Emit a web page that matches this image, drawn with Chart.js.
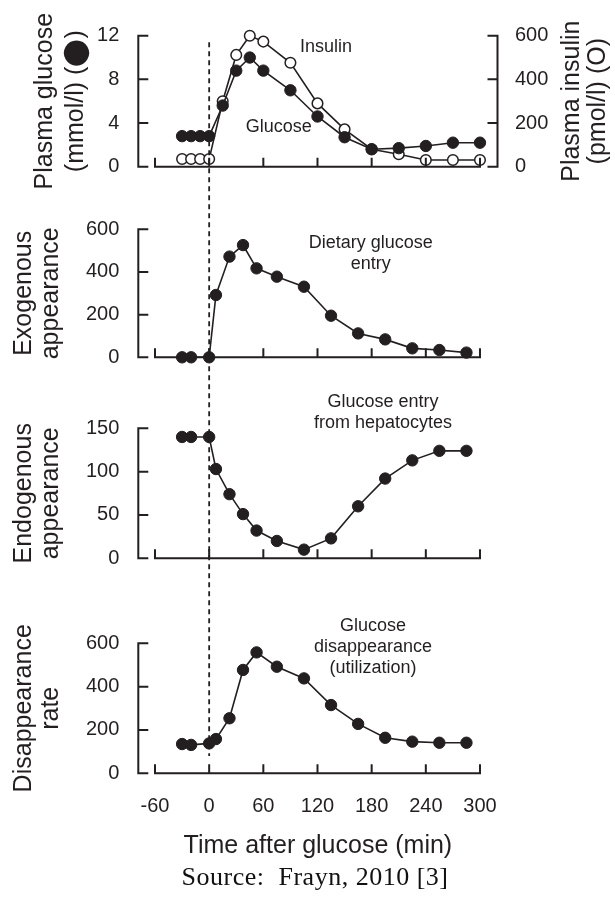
<!DOCTYPE html>
<html><head><meta charset="utf-8">
<script src="https://cdn.jsdelivr.net/npm/chart.js@4.4.1/dist/chart.umd.min.js"></script>
<style>
html,body{margin:0;padding:0;background:#fff;}
#wrap{position:relative;width:615px;height:901px;overflow:hidden;background:#fff;}
canvas{position:absolute;left:0;top:0;}
#src{position:absolute;left:0;width:630px;top:862px;text-align:center;font-family:"Liberation Serif","Times New Roman",serif;font-size:26px;line-height:30px;color:#111;letter-spacing:0.5px;}
</style></head><body>
<div id="wrap">
<canvas id="c1" width="615" height="901"></canvas>
<canvas id="c2" width="615" height="901"></canvas>
<canvas id="c3" width="615" height="901"></canvas>
<canvas id="c4" width="615" height="901"></canvas>
<div id="src">Source:&nbsp; Frayn, 2010 [3]</div>
</div>
<script>
// ---------- data ----------
const glucoseTime = [-30, -20, -10, 0, 15, 30, 45, 60, 90, 120, 150, 180, 210, 240, 270, 300];
const glucose     = [2.8, 2.8, 2.8, 2.8, 5.6, 8.8, 10.0, 8.8, 7.0, 4.6, 2.7, 1.6, 1.7, 1.9, 2.2, 2.2];
const insulin     = [35, 35, 35, 35, 300, 512, 600, 573, 476, 290, 171, 80, 57, 31, 31, 31];
const rateTime      = [-30, -20, 0, 7.5, 22.5, 37.5, 52.5, 75, 105, 135, 165, 195, 225, 255, 285];
const exogenous     = [0, 0, 0, 292, 472, 526, 417, 378, 331, 195, 112, 84, 42, 34, 22];
const endogenous    = [140, 140, 140, 103, 74, 51, 32, 20, 10, 23, 60, 92, 113, 124, 124];
const disappearance = [135, 131, 138, 158, 254, 477, 558, 492, 438, 315, 228, 164, 146, 141, 141];
const xTicks        = [-60, 0, 60, 120, 180, 240, 300];
const glucoseTicks  = [0, 4, 8, 12];
const insulinTicks  = [0, 200, 400, 600];
const exoTicks      = [0, 200, 400, 600];
const endoTicks     = [0, 50, 100, 150];
const disTicks      = [0, 200, 400, 600];

// ---------- style / layout ----------
const FONT = '"Liberation Sans", Arial, Helvetica, sans-serif';
const INK = '#231f20';
const W = 615, H = 901;
const LEFT_W = 138.3, RIGHT_W = 117.5;
const X_MIN = -78.5, X_MAX = 319.4;

const pts = (xs, ys) => xs.map((t, i) => ({x: t, y: ys[i]}));
const setTicks = arr => s => { s.ticks = arr.map(v => ({value: v})); };

const framePlugin = {
  id: 'frame',
  afterDatasetsDraw(chart, args, o) {
    const ctx = chart.ctx, xs = chart.scales.x, ys = chart.scales.y;
    const ca = chart.chartArea;
    ctx.save();
    ctx.strokeStyle = INK; ctx.lineWidth = 2; ctx.lineCap = 'butt'; ctx.lineJoin = 'miter';
    const yT = o.yTicks;
    const top = ys.getPixelForValue(yT[yT.length - 1]), bot = ys.getPixelForValue(yT[0]);
    const L = ca.left;
    ctx.beginPath();
    ctx.moveTo(L + 10, top); ctx.lineTo(L, top); ctx.lineTo(L, bot); ctx.lineTo(L + 10, bot);
    yT.slice(1, -1).forEach(v => { const p = ys.getPixelForValue(v); ctx.moveTo(L, p); ctx.lineTo(L + 10, p); });
    ctx.stroke();
    if (chart.scales.y1 && o.y1Ticks) {
      const y1 = chart.scales.y1, R = ca.right, t1 = o.y1Ticks;
      const tp = y1.getPixelForValue(t1[t1.length - 1]), bt = y1.getPixelForValue(t1[0]);
      ctx.beginPath();
      ctx.moveTo(R - 10, tp); ctx.lineTo(R, tp); ctx.lineTo(R, bt); ctx.lineTo(R - 10, bt);
      t1.slice(1, -1).forEach(v => { const p = y1.getPixelForValue(v); ctx.moveTo(R, p); ctx.lineTo(R - 10, p); });
      ctx.stroke();
    }
    const xb = ys.getPixelForValue(0);
    const xT = o.xTicks;
    const x0 = xs.getPixelForValue(xT[0]), x1 = xs.getPixelForValue(xT[xT.length - 1]);
    ctx.beginPath();
    ctx.moveTo(x0, xb - 9); ctx.lineTo(x0, xb); ctx.lineTo(x1, xb); ctx.lineTo(x1, xb - 9);
    xT.slice(1, -1).forEach(v => { const p = xs.getPixelForValue(v); ctx.moveTo(p, xb); ctx.lineTo(p, xb - 9); });
    ctx.stroke();
    ctx.fillStyle = INK; ctx.font = '18px ' + FONT; ctx.textAlign = 'center'; ctx.textBaseline = 'middle';
    (o.notes || []).forEach(n => {
      const px = xs.getPixelForValue(n.x), py = ys.getPixelForValue(n.y);
      n.lines.forEach((s, i) => ctx.fillText(s, px, py + i * 21));
    });
    if (o.rightTitle && chart.scales.y1) {
      const y1 = chart.scales.y1;
      const cy = (ca.top + ca.bottom) / 2;
      ctx.font = '25px ' + FONT;
      o.rightTitle.lines.forEach((s, i) => {
        ctx.save();
        ctx.translate(y1.left + o.rightTitle.offsets[i], cy);
        ctx.rotate(-Math.PI / 2);
        ctx.fillText(s, 0, 0);
        ctx.restore();
      });
    }
    ctx.restore();
  }
};

function lineDataset(data, filled) {
  return {
    data, borderColor: INK, borderWidth: 1.6, tension: 0, clip: false,
    pointRadius: filled ? 5.7 : 5.3, pointBorderWidth: filled ? 1 : 1.5,
    pointBackgroundColor: filled ? INK : '#ffffff', pointBorderColor: INK,
    pointHoverRadius: 5.7
  };
}

function makeChart(id, p) {
  const showX = !!p.showX;
  const xH = showX ? 90 : 0;
  const scales = {
    x: {
      type: 'linear', min: X_MIN, max: X_MAX,
      afterBuildTicks: setTicks(xTicks),
      afterFit: s => { s.height = xH; },
      grid: {display: false, drawTicks: false}, border: {display: false},
      ticks: {display: showX, color: INK, font: {family: FONT, size: 20}, padding: 20.7, maxRotation: 0, autoSkip: false},
      title: {display: showX, text: 'Time after glucose (min)', color: INK,
              font: {family: FONT, size: 25, lineHeight: 1.2}, padding: {top: 0, bottom: 2.6}}
    },
    y: {
      type: 'linear', position: 'left', min: p.yTicks[0], max: p.yTicks[p.yTicks.length - 1],
      afterBuildTicks: setTicks(p.yTicks),
      afterFit: s => { s.width = LEFT_W; },
      grid: {display: false, drawTicks: false}, border: {display: false},
      ticks: {color: INK, font: {family: FONT, size: 20}, padding: 19},
      title: {display: true, text: p.title, color: INK,
              font: {family: FONT, size: 25, lineHeight: p.titleLH}, padding: {top: p.titlePad, bottom: 0}}
    }
  };
  if (p.y1Ticks) {
    scales.y1 = {
      type: 'linear', position: 'right', min: p.y1Ticks[0], max: p.y1Ticks[p.y1Ticks.length - 1],
      afterBuildTicks: setTicks(p.y1Ticks),
      afterFit: s => { s.width = RIGHT_W; },
      grid: {display: false, drawTicks: false}, border: {display: false},
      ticks: {color: INK, font: {family: FONT, size: 20}, padding: 17.5},
      title: {display: false}
    };
  }
  return new Chart(document.getElementById(id), {
    type: 'line',
    data: {datasets: p.datasets},
    options: {
      responsive: false, animation: false, devicePixelRatio: 1, events: [],
      layout: {padding: {top: p.top, bottom: H - p.bottom - xH, left: 0, right: p.y1Ticks ? 0 : RIGHT_W}},
      plugins: {
        legend: {display: false}, tooltip: {enabled: false},
        frame: {yTicks: p.yTicks, y1Ticks: p.y1Ticks, xTicks: xTicks, notes: p.notes, rightTitle: p.rightTitle}
      },
      scales
    },
    plugins: [framePlugin].concat(p.extraPlugins || [])
  });
}

const glucoseSet = lineDataset(pts(glucoseTime, glucose), true);
glucoseSet.yAxisID = 'y';
const insulinSet = lineDataset(pts(glucoseTime, insulin), false);
insulinSet.yAxisID = 'y1';

const chart1 = makeChart('c1', {
  top: 35.7, bottom: 166.7, yTicks: glucoseTicks, y1Ticks: insulinTicks,
  title: ['Plasma glucose', '(mmol/l) (\u2B24)'], titleLH: 1.228, titlePad: 29.65,
  datasets: [glucoseSet, insulinSet],
  notes: [{x: 129.4, y: 10.93, lines: ['Insulin']}, {x: 77.1, y: 3.61, lines: ['Glucose']}],
  rightTitle: {lines: ['Plasma insulin', '(pmol/l) (O)'], offsets: [74.5, 100.5]}
});

makeChart('c2', {
  top: 229.3, bottom: 357.3, yTicks: exoTicks,
  title: ['Exogenous', 'appearance'], titleLH: 1.064, titlePad: 11.2,
  datasets: [lineDataset(pts(rateTime, exogenous), true)],
  notes: [{x: 179, y: 537, lines: ['Dietary glucose', 'entry']}]
});

makeChart('c3', {
  top: 428.3, bottom: 558.3, yTicks: endoTicks,
  title: ['Endogenous', 'appearance'], titleLH: 1.064, titlePad: 11.2,
  datasets: [lineDataset(pts(rateTime, endogenous), true)],
  notes: [{x: 192.5, y: 180.3, lines: ['Glucose entry', 'from hepatocytes']}]
});

const VLINE = {x: 0, fromGlucose: 11.4, toRate: 80};
const vlinePlugin = {
  id: 'vline',
  afterDraw(chart) {
    const ctx = chart.ctx;
    const px = chart.scales.x.getPixelForValue(VLINE.x);
    const y0 = chart1.scales.y.getPixelForValue(VLINE.fromGlucose);
    const y1 = chart.scales.y.getPixelForValue(VLINE.toRate);
    ctx.save();
    ctx.strokeStyle = INK; ctx.lineWidth = 1.8; ctx.setLineDash([5, 4]);
    ctx.beginPath(); ctx.moveTo(px, y0); ctx.lineTo(px, y1); ctx.stroke();
    ctx.restore();
  }
};

makeChart('c4', {
  top: 643.3, bottom: 773.3, yTicks: disTicks, showX: true,
  title: ['Disappearance', 'rate'], titleLH: 1.064, titlePad: 11.2,
  datasets: [lineDataset(pts(rateTime, disappearance), true)],
  notes: [{x: 181.5, y: 680, lines: ['Glucose', 'disappearance', '(utilization)']}],
  extraPlugins: [vlinePlugin]
});
</script>
</body></html>
